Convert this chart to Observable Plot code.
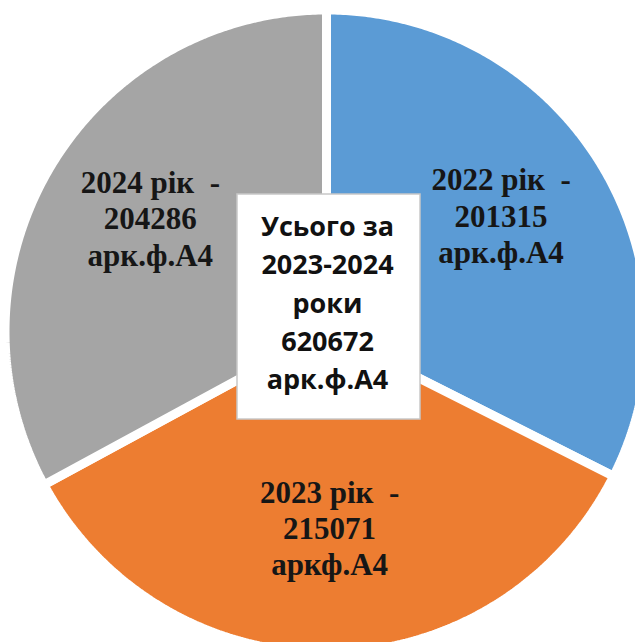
<!DOCTYPE html>
<html>
<head>
<meta charset="utf-8">
<script src="https://cdn.jsdelivr.net/npm/d3@7"></script>
<script src="https://cdn.jsdelivr.net/npm/@observablehq/plot@0.6"></script>
<style>
  html, body { margin: 0; padding: 0; background: #fff; }
  #chart { width: 635px; height: 642px; overflow: hidden; }
</style>
</head>
<body>
<div id="chart"></div>
<script>
// ---- data ----
const years = ["2022 рік", "2023 рік", "2024 рік"];
const values = [201315, 215071, 204286];
const units = ["арк.ф.А4", "аркф.А4", "арк.ф.А4"];
const colors = ["#5B9BD5", "#ED7D31", "#A5A5A5"];
const totalLines = ["Усього за", "2023-2024", "роки", "620672", "арк.ф.А4"];

// ---- layout constants ----
const W = 635, H = 642;
const CX = 326, CY = 331;       // pie centre in pixels
const R = 321.5;                // outer radius (stroke eats half the gap)
const LABEL_R = 205;
const BOX = {left: -89, right: 94, top: 137, bottom: -88};

const pie = d3.pie().sort(null).value(d => d.value)(
  years.map((y, i) => ({year: y, value: values[i], unit: units[i]}))
);

// slice outlines as polygons in data units (y up)
const poly = [];
for (const s of pie) {
  const n = Math.max(2, Math.ceil((s.endAngle - s.startAngle) / (Math.PI / 360)));
  poly.push({year: s.data.year, x: 0, y: 0});
  for (let k = 0; k <= n; k++) {
    const a = s.startAngle + (s.endAngle - s.startAngle) * k / n;
    poly.push({year: s.data.year, x: R * Math.sin(a), y: R * Math.cos(a)});
  }
  poly.push({year: s.data.year, x: 0, y: 0});
}

const labels = pie.map(s => {
  const a = (s.startAngle + s.endAngle) / 2;
  return {
    x: LABEL_R * Math.sin(a),
    y: LABEL_R * Math.cos(a),
    text: `${s.data.year}\u00a0 -\n${s.data.value}\n${s.data.unit}`
  };
});

const chart = Plot.plot({
  width: W,
  height: H,
  margin: 0,
  style: {background: "#fff", overflow: "visible"},
  x: {domain: [-CX, W - CX], axis: null},
  y: {domain: [-(H - CY), CY], axis: null},
  color: {domain: years, range: colors},
  marks: [
    Plot.line(poly, {x: "x", y: "y", z: "year", fill: "year", stroke: "white", strokeWidth: 9, strokeLinejoin: "miter", curve: "linear"}),
    Plot.text(labels, {
      x: "x", y: "y", text: "text", dy: -9,
      fontFamily: "Liberation Serif", fontWeight: "bold", fontSize: 31,
      lineHeight: 1.17, fill: "#161616", textAnchor: "middle", lineAnchor: "middle"
    }),
    Plot.rect([BOX], {x1: "left", x2: "right", y1: "bottom", y2: "top", fill: "white", stroke: "#c8c8c8", strokeWidth: 1.5}),
    Plot.text([totalLines.join("\n")], {
      x: () => 1, y: () => 31, text: d => d,
      fontFamily: "Open Sans", fontWeight: "bold", fontSize: 27,
      lineHeight: 1.42, fill: "#111", textAnchor: "middle", lineAnchor: "middle"
    })
  ]
});

document.getElementById("chart").appendChild(chart);
</script>
</body>
</html>
